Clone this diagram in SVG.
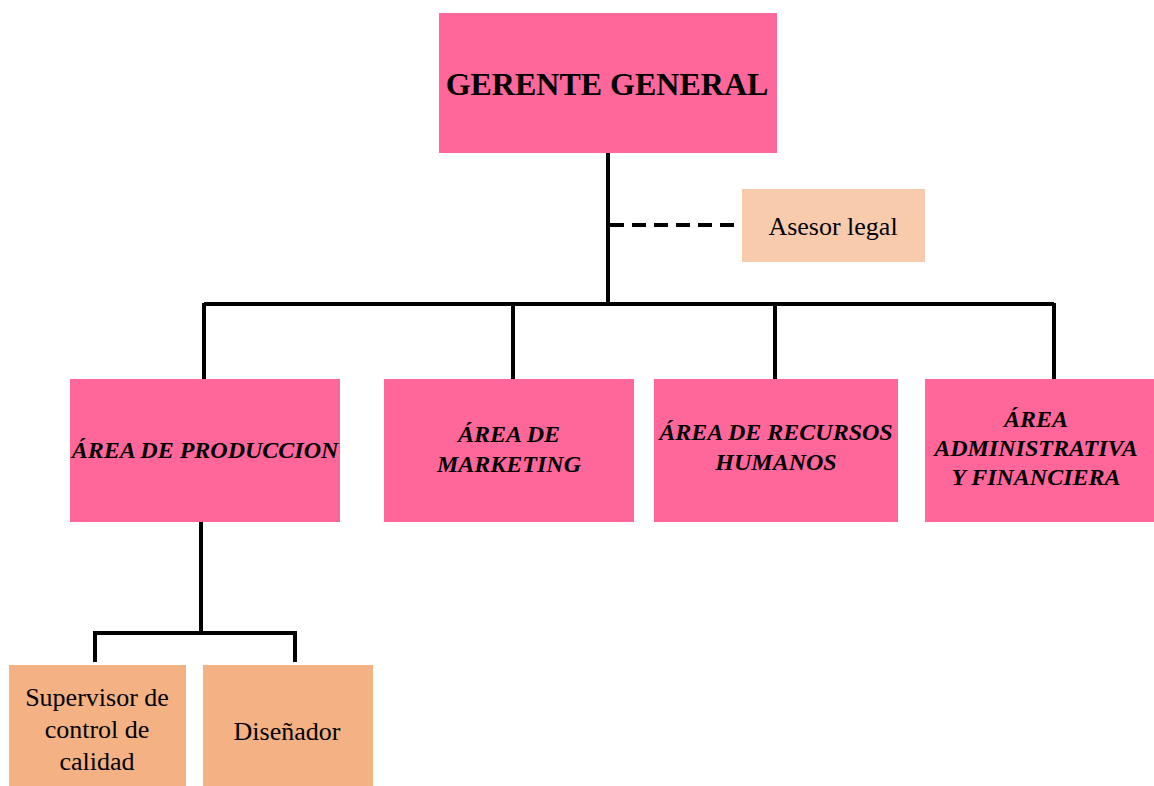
<svg xmlns="http://www.w3.org/2000/svg" width="1154" height="786" viewBox="0 0 1154 786">
  <style>
    .pink { fill: #FF6699; }
    .peach { fill: #F8CBAD; }
    .orange { fill: #F4B183; }
    .line { stroke: #000; stroke-width: 4; fill: none; }
    .dash { stroke: #000; stroke-width: 4; fill: none; stroke-dasharray: 14 8; }
    .title { font-family: "Liberation Serif", "Times New Roman", serif; font-weight: bold; font-size: 32px; text-anchor: middle; fill: #000; }
    .area { font-family: "Liberation Serif", "Times New Roman", serif; font-weight: bold; font-style: italic; font-size: 24px; text-anchor: middle; fill: #000; }
    .plain { font-family: "Liberation Serif", "Times New Roman", serif; font-size: 26px; text-anchor: middle; fill: #000; }
  </style>
  <rect width="1154" height="786" fill="#fff"/>

  <!-- connectors -->
  <g id="connectors">
    <path class="line" d="M608 153 V304"/>
    <path class="dash" d="M610 225 H742"/>
    <path class="line" d="M204 304 H1054"/>
    <path class="line" d="M204 303 V379 M513 303 V379 M775 303 V379 M1054 303 V379"/>
    <path class="line" d="M201 522 V633"/>
    <path class="line" d="M95 662 V633 H295 V662"/>
  </g>

  <g id="gerente-general">
    <rect class="pink" x="439" y="13" width="338" height="140"/>
    <text class="title" x="607" y="95">GERENTE GENERAL</text>
  </g>

  <g id="asesor-legal">
    <rect class="peach" x="742" y="189" width="183" height="73"/>
    <text class="plain" x="833" y="235">Asesor legal</text>
  </g>

  <g id="area-produccion">
    <rect class="pink" x="70" y="379" width="270" height="143"/>
    <text class="area" x="205" y="458">ÁREA DE PRODUCCION</text>
  </g>

  <g id="area-marketing">
    <rect class="pink" x="384" y="379" width="250" height="143"/>
    <text class="area" x="509" y="442">ÁREA DE</text>
    <text class="area" x="509" y="472">MARKETING</text>
  </g>

  <g id="area-rrhh">
    <rect class="pink" x="654" y="379" width="244" height="143"/>
    <text class="area" x="776" y="440">ÁREA DE RECURSOS</text>
    <text class="area" x="776" y="470">HUMANOS</text>
  </g>

  <g id="area-administrativa">
    <rect class="pink" x="925" y="379" width="229" height="143"/>
    <text class="area" x="1036" y="427">ÁREA</text>
    <text class="area" x="1036" y="456">ADMINISTRATIVA</text>
    <text class="area" x="1036" y="485">Y FINANCIERA</text>
  </g>

  <g id="supervisor-calidad">
    <rect class="orange" x="9" y="665" width="177" height="121"/>
    <text class="plain" x="97" y="706">Supervisor de</text>
    <text class="plain" x="97" y="738">control de</text>
    <text class="plain" x="97" y="770">calidad</text>
  </g>

  <g id="disenador">
    <rect class="orange" x="203" y="665" width="170" height="121"/>
    <text class="plain" x="287" y="740">Diseñador</text>
  </g>
</svg>
